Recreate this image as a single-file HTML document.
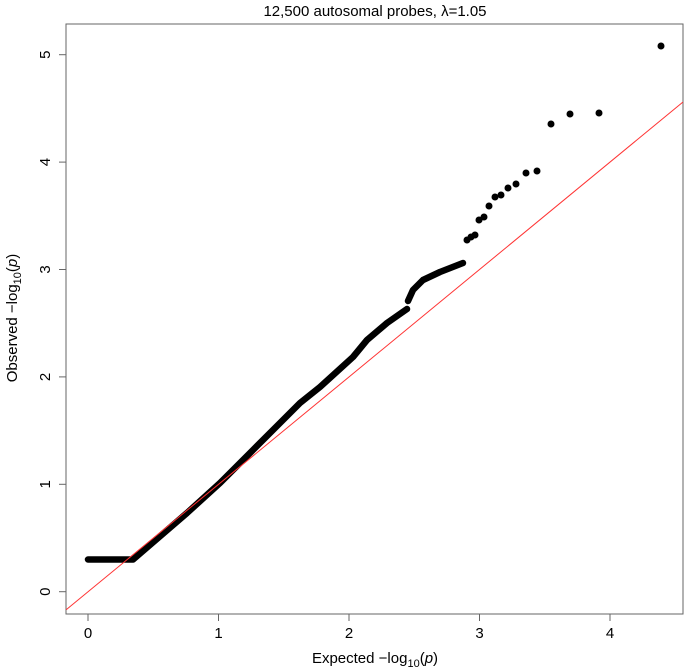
<!DOCTYPE html>
<html><head><meta charset="utf-8"><style>
body{margin:0;background:#fff}
svg{display:block;font-family:"Liberation Sans",sans-serif}
</style></head><body>
<svg width="685" height="669" viewBox="0 0 685 669" xmlns="http://www.w3.org/2000/svg">
<rect width="685" height="669" fill="#fff"/>
<defs><clipPath id="c"><rect x="66" y="24" width="617" height="590"/></clipPath></defs>
<text x="375" y="16" font-size="15" text-anchor="middle">12,500 autosomal probes, λ=1.05</text>
<rect x="66" y="24" width="617" height="590" fill="none" stroke="#666" stroke-width="1"/>
<g stroke="#666" stroke-width="1">
<line x1="88" y1="614" x2="88" y2="621"/><line x1="218.5" y1="614" x2="218.5" y2="621"/><line x1="349" y1="614" x2="349" y2="621"/><line x1="479.5" y1="614" x2="479.5" y2="621"/><line x1="610" y1="614" x2="610" y2="621"/>
<line x1="59" y1="591.7" x2="66" y2="591.7"/><line x1="59" y1="484.3" x2="66" y2="484.3"/><line x1="59" y1="376.9" x2="66" y2="376.9"/><line x1="59" y1="269.5" x2="66" y2="269.5"/><line x1="59" y1="162.1" x2="66" y2="162.1"/><line x1="59" y1="54.7" x2="66" y2="54.7"/>
</g>
<g font-size="15" text-anchor="middle">
<text x="88" y="638">0</text><text x="218.5" y="638">1</text><text x="349" y="638">2</text><text x="479.5" y="638">3</text><text x="610" y="638">4</text>
</g>
<g font-size="15" text-anchor="middle">
<text transform="translate(50,591.7) rotate(-90)">0</text>
<text transform="translate(50,484.3) rotate(-90)">1</text>
<text transform="translate(50,376.9) rotate(-90)">2</text>
<text transform="translate(50,269.5) rotate(-90)">3</text>
<text transform="translate(50,162.1) rotate(-90)">4</text>
<text transform="translate(50,54.7) rotate(-90)">5</text>
</g>
<text x="375" y="663" font-size="15" text-anchor="middle">Expected  −log<tspan font-size="11" dy="4">10</tspan><tspan dy="-4">(</tspan><tspan font-style="italic">p</tspan>)</text>
<text transform="translate(17,318) rotate(-90)" font-size="15" text-anchor="middle">Observed  −log<tspan font-size="11" dy="4">10</tspan><tspan dy="-4">(</tspan><tspan font-style="italic">p</tspan>)</text>
<g clip-path="url(#c)">
<polyline fill="none" stroke="#000" stroke-width="6.5" stroke-linecap="round" stroke-linejoin="round" points="88,559.5 133,559.5 187,513 220,483 253,450 280,423 300,403 320,387 353,357 367,340 387,323 407,309"/>
<polyline fill="none" stroke="#000" stroke-width="6.5" stroke-linecap="round" stroke-linejoin="round" points="408,301 413,290 423,280 440,272 463,263"/>
<line x1="66" y1="609.9" x2="683" y2="102" stroke="#f33" stroke-width="1"/>
<g fill="#000">
<circle cx="467" cy="240" r="3.5"/><circle cx="471" cy="237" r="3.5"/><circle cx="475" cy="235" r="3.5"/>
<circle cx="479" cy="220" r="3.5"/><circle cx="484" cy="217" r="3.5"/><circle cx="489" cy="206" r="3.5"/>
<circle cx="495" cy="197" r="3.5"/><circle cx="501" cy="195" r="3.5"/><circle cx="508" cy="188" r="3.5"/>
<circle cx="516" cy="184" r="3.5"/><circle cx="526" cy="173" r="3.5"/><circle cx="537" cy="171" r="3.5"/>
<circle cx="551" cy="124" r="3.5"/><circle cx="570" cy="114" r="3.5"/><circle cx="599" cy="113" r="3.5"/>
<circle cx="661" cy="46" r="3.5"/>
</g>
</g>
</svg>
</body></html>
